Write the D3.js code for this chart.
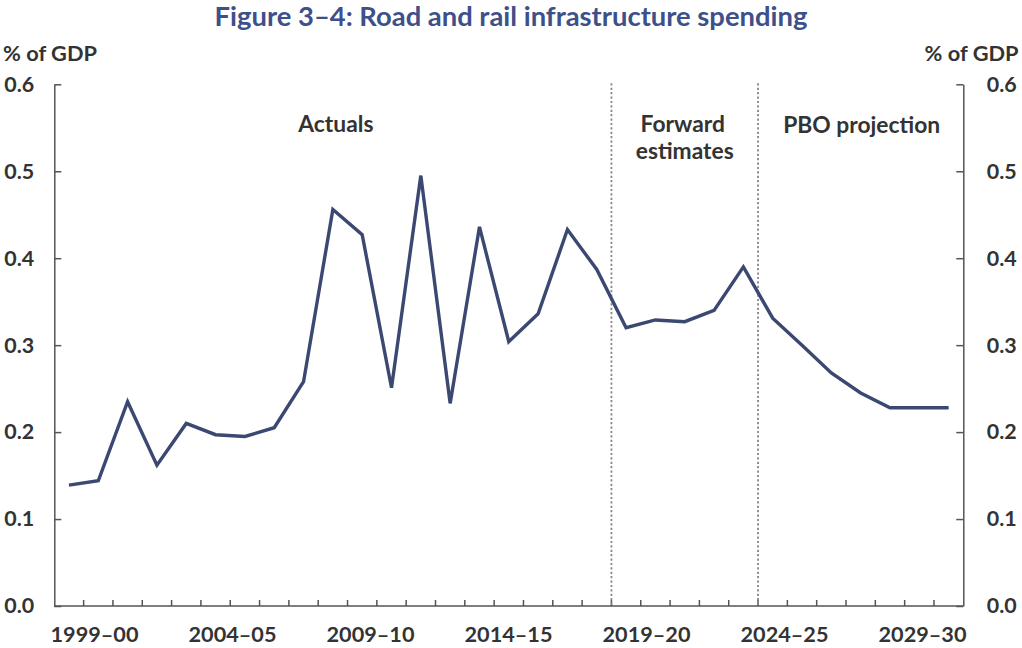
<!DOCTYPE html>
<html>
<head>
<meta charset="utf-8">
<script src="https://cdn.jsdelivr.net/npm/d3@7"></script>
<style>
  html, body { margin: 0; padding: 0; background: #fff; }
  svg { display: block; }
  text { font-family: "Lato", "Open Sans", sans-serif; font-weight: 700; }
</style>
</head>
<body>
<svg id="chart" width="1022" height="648"></svg>
<script>
// ---------------- data ----------------
const years = ["1999–00","2000–01","2001–02","2002–03","2003–04","2004–05","2005–06","2006–07",
  "2007–08","2008–09","2009–10","2010–11","2011–12","2012–13","2013–14","2014–15","2015–16",
  "2016–17","2017–18","2018–19","2019–20","2020–21","2021–22","2022–23","2023–24","2024–25",
  "2025–26","2026–27","2027–28","2028–29","2029–30"];
const spending = [0.139,0.144,0.235,0.162,0.210,0.197,0.195,0.205,0.258,0.456,0.427,0.251,0.495,
  0.233,0.436,0.304,0.336,0.433,0.387,0.320,0.329,0.327,0.340,0.390,0.331,0.300,0.268,0.245,
  0.228,0.228,0.228];
const xTickLabels = ["1999–00","2004–05","2009–10","2014–15","2019–20","2024–25","2029–30"];
const yTicks = [0, 0.1, 0.2, 0.3, 0.4, 0.5, 0.6];
const periodStarts = ["2018–19", "2023–24"];   // first year of forward estimates / projection
const titleText = "Figure 3–4: Road and rail infrastructure spending";
const unitText = "% of GDP";

// ---------------- layout ----------------
(function () {
const W = 1022, H = 648;
const pLeft = 54.3, pRight = 963.3, pTop = 84.3, pBottom = 606;
const svg = d3.select("#chart");

const x = d3.scaleBand().domain(years).range([pLeft, pRight]).padding(0);
const xLabel = d3.scalePoint().domain(years).range([94.5, 922.5]);
const y = d3.scaleLinear().domain([0, 0.6]).range([pBottom, pTop]);

const axisColor = "#555";
const textColor = "#333";

function fit(sel, target, base) {
  sel.style("font-size", base + "px");
  const w = sel.node().getComputedTextLength();
  return base * target / w;
}

// Title
const title = svg.append("text").attr("x", W / 2).attr("y", 26)
  .attr("text-anchor", "middle").attr("fill", "#3d5089").text(titleText);
title.style("font-size", fit(title, 593, 26) + "px");

// Unit labels
const unitL = svg.append("text").attr("x", 3).attr("y", 61).attr("fill", textColor).text(unitText);
const unitSize = fit(unitL, 94, 20);
unitL.style("font-size", unitSize + "px");
svg.append("text").attr("x", 1018.5).attr("y", 61).attr("text-anchor", "end")
  .attr("fill", textColor).style("font-size", unitSize + "px").text(unitText);

// measure tick font
const probe = svg.append("text").text("0.6");
const tickSize = fit(probe, 30, 20);
probe.remove();

// Left axis
const gL = svg.append("g").attr("transform", `translate(${pLeft},0)`)
  .call(d3.axisLeft(y).tickValues(yTicks).tickFormat(d3.format(".1f"))
    .tickSizeInner(-7).tickSizeOuter(0).tickPadding(20));
// Right axis
const gR = svg.append("g").attr("transform", `translate(${pRight},0)`)
  .call(d3.axisRight(y).tickValues(yTicks).tickFormat(d3.format(".1f"))
    .tickSizeInner(-7).tickSizeOuter(0).tickPadding(23.5));
[gL, gR].forEach(g => {
  g.select(".domain").attr("stroke", axisColor).attr("stroke-width", 1.5);
  g.selectAll(".tick line").attr("stroke", axisColor).attr("stroke-width", 1.5);
  g.selectAll(".tick text").attr("fill", textColor)
    .style("font-size", tickSize + "px").style("font-family", "Lato, sans-serif").style("font-weight", 700);
});

// Bottom axis line and ticks at category boundaries
svg.append("line").attr("x1", pLeft).attr("x2", pRight).attr("y1", pBottom).attr("y2", pBottom)
  .attr("stroke", axisColor).attr("stroke-width", 1.5);
svg.append("g").selectAll("line").data(years.slice(1)).join("line")
  .attr("x1", d => x(d)).attr("x2", d => x(d))
  .attr("y1", pBottom).attr("y2", pBottom - 6)
  .attr("stroke", axisColor).attr("stroke-width", 1.5);

// x labels
const probe2 = svg.append("text").text("1999–00");
const xSize = fit(probe2, 88, 20);
probe2.remove();
svg.append("g").selectAll("text").data(xTickLabels).join("text")
  .attr("x", d => xLabel(d)).attr("y", 642).attr("text-anchor", "middle")
  .attr("fill", textColor).style("font-size", xSize + "px").text(d => d);

// period separators
svg.append("g").selectAll("line").data(periodStarts).join("line")
  .attr("x1", d => x(d)).attr("x2", d => x(d))
  .attr("y1", y(0.6) - 1).attr("y2", y(0))
  .attr("stroke", "#888").attr("stroke-width", 1.8).attr("stroke-dasharray", "2.2,2.2");

// period annotations
const probe3 = svg.append("text").text("PBO projection");
const annSize = fit(probe3, 157, 20);
probe3.remove();
const b1 = x(periodStarts[0]), b2 = x(periodStarts[1]);
const ann = svg.append("g").attr("fill", textColor).style("font-size", annSize + "px")
  .attr("text-anchor", "middle");
ann.append("text").attr("x", (pLeft + b1) / 2 + 3).attr("y", 132).text("Actuals");
ann.append("text").attr("x", (b1 + b2) / 2 - 2).attr("y", 132).text("Forward");
ann.append("text").attr("x", (b1 + b2) / 2).attr("y", 159).text("estimates");
ann.append("text").attr("x", (b2 + pRight) / 2 + 1).attr("y", 133).text("PBO projection");

// line
const line = d3.line().x((d, i) => x(years[i]) + x.bandwidth() / 2).y(d => y(d));
svg.append("path").datum(spending).attr("d", line)
  .attr("fill", "none").attr("stroke", "#3a4872").attr("stroke-width", 3.4)
  .attr("stroke-linejoin", "miter");
})();
</script>
</body>
</html>
